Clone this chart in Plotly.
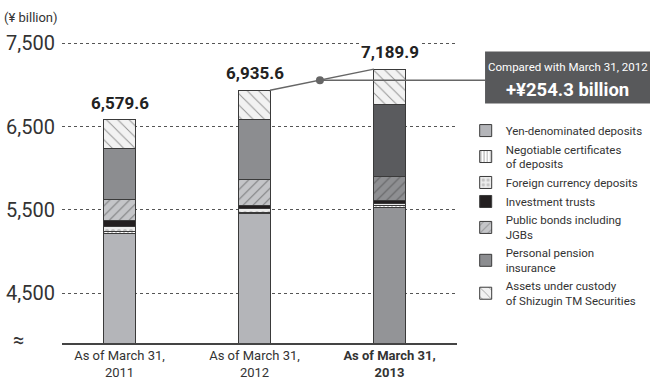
import plotly.graph_objects as go

categories = ["As of March 31,<br>2011", "As of March 31,<br>2012", "<b>As of March 31,<br>2013</b>"]
yen_deposits = [5215, 5450, 5530]
ncd = [25, 20, 18]
foreign_currency = [65, 40, 30]
investment_trusts = [70, 45, 32]
public_bonds = [245, 305, 288]
pension_insurance = [620, 729, 872]
custody_assets = [339.6, 346.6, 419.9]
y_ticks = [4500, 5500, 6500, 7500]
y_tick_text = ["4,500", "5,500", "6,500", "7,500"]

FONT = "Roboto, Liberation Sans, sans-serif"
X_RANGE = [-0.426, 2.5]
Y_RANGE = [3900, 7660]
BAR_W = 0.23
xs = [0, 1, 2]

def px(x):
    return (x - X_RANGE[0]) / (X_RANGE[1] - X_RANGE[0])

def py(y):
    return (y - Y_RANGE[0]) / (Y_RANGE[1] - Y_RANGE[0])

line = dict(color="#3a3a3a", width=1)
fig = go.Figure()
fig.add_bar(x=xs, y=yen_deposits, name="Yen-denominated deposits", width=BAR_W,
            marker=dict(color=["#b4b5b9", "#b4b5b9", "#939497"], line=line))
fig.add_bar(x=xs, y=ncd, name="Negotiable certificates<br>of deposits", width=BAR_W,
            marker=dict(color="white", line=line,
                        pattern=dict(shape="|", fgcolor="#333", bgcolor="white", size=4, solidity=0.25)))
fig.add_bar(x=xs, y=foreign_currency, name="Foreign currency deposits", width=BAR_W,
            marker=dict(color="#ececec", line=line,
                        pattern=dict(shape=".", fgcolor="#9a9a9a", bgcolor="#ececec", size=6, solidity=0.35)))
fig.add_bar(x=xs, y=investment_trusts, name="Investment trusts", width=BAR_W,
            marker=dict(color="#231f20", line=line))
fig.add_bar(x=xs, y=public_bonds, name="Public bonds including<br>JGBs", width=BAR_W,
            marker=dict(color="#c4c5c8", line=line,
                        pattern=dict(shape="/", fgcolor="#333", bgcolor=["#c4c5c8", "#c4c5c8", "#8e8f92"], size=7, solidity=0.15)))
fig.add_bar(x=xs, y=pension_insurance, name="Personal pension<br>insurance", width=BAR_W,
            marker=dict(color=["#8c8d90", "#8c8d90", "#5a5b5e"], line=line))
fig.add_bar(x=xs, y=custody_assets, name="Assets under custody<br>of Shizugin TM Securities", width=BAR_W,
            marker=dict(color="#f2f2f2", line=line,
                        pattern=dict(shape="\\", fgcolor="#333", bgcolor="#f2f2f2", size=8, solidity=0.12)))

series = [yen_deposits, ncd, foreign_currency, investment_trusts, public_bonds, pension_insurance, custody_assets]
totals = [sum(s[i] for s in series) for i in range(3)]

annotations = []
for i, t in enumerate(totals):
    annotations.append(dict(x=xs[i], y=t, xref="x", yref="y", text=f"<b>{t:,.1f}</b>",
                            showarrow=False, xanchor="center", yanchor="bottom", yshift=5, bgcolor="white",
                            font=dict(family=FONT, size=17, color="#222")))

annotations.append(dict(x=-0.152, y=1.04, xref="paper", yref="paper", text="(¥ billion)",
                        showarrow=False, xanchor="left", yanchor="middle",
                        font=dict(family=FONT, size=13, color="#333")))
annotations.append(dict(x=-0.111, y=0.01, xref="paper", yref="paper", text="≈",
                        showarrow=False, xanchor="center", yanchor="middle",
                        font=dict(family=FONT, size=20, color="#333")))

# comparison box
box_x0, box_x1 = 1.071, 1.49
box_y0, box_y1 = 0.765, 0.931
shapes = [dict(type="rect", xref="paper", yref="paper", x0=box_x0, x1=box_x1, y0=box_y0, y1=box_y1,
               fillcolor="#58595b", line=dict(width=0), layer="above")]
annotations.append(dict(x=(box_x0 + box_x1) / 2, y=box_y1 - 0.05, xref="paper", yref="paper",
                        text="Compared with March 31, 2012", showarrow=False,
                        xanchor="center", yanchor="middle",
                        font=dict(family=FONT, size=11.5, color="white")))
diff = totals[2] - totals[1]
annotations.append(dict(x=(box_x0 + box_x1) / 2, y=box_y0 + 0.042, xref="paper", yref="paper",
                        text=f"<b>+¥{diff:,.1f} billion</b>", showarrow=False,
                        xanchor="center", yanchor="middle",
                        font=dict(family=FONT, size=18.5, color="white")))

# connector
x_a, y_a = xs[1] + BAR_W / 2, totals[1]
x_b, y_b = xs[2] - BAR_W / 2, totals[2]
t = 0.48
x_d, y_d = x_a + (x_b - x_a) * t, y_a + (y_b - y_a) * t
shapes.append(dict(type="line", xref="paper", yref="paper", x0=px(x_a), y0=py(y_a), x1=px(x_b), y1=py(y_b),
                   line=dict(color="#666", width=1.5), layer="above"))
shapes.append(dict(type="line", xref="paper", yref="paper", x0=px(x_d), y0=py(y_d), x1=box_x0, y1=py(y_d),
                   line=dict(color="#666", width=1.5), layer="above"))
fig.add_trace(go.Scatter(x=[x_d], y=[y_d], mode="markers", showlegend=False, hoverinfo="skip",
                         marker=dict(color="#666", size=8)))

fig.update_layout(
    width=650, height=382,
    margin=dict(l=62, r=193, t=30, b=39, autoexpand=False),
    barmode="stack",
    plot_bgcolor="white", paper_bgcolor="white",
    font=dict(family=FONT, color="#333"),
    showlegend=True,
    legend=dict(x=1.022, y=0.725, xanchor="left", yanchor="top", traceorder="normal",
                font=dict(family=FONT, size=11.5, color="#333"), itemwidth=30,
                bgcolor="rgba(0,0,0,0)", tracegroupgap=0),
    annotations=annotations,
    shapes=shapes,
)
fig.update_xaxes(range=X_RANGE, tickvals=xs, ticktext=categories, showgrid=False,
                 showline=True, linecolor="#444", linewidth=1.5, ticks="", zeroline=False,
                 tickfont=dict(family=FONT, size=13, color="#333"))
fig.update_yaxes(range=Y_RANGE, tickvals=y_ticks, ticktext=y_tick_text, showgrid=True,
                 gridcolor="#555", gridwidth=1, griddash="dot", zeroline=False, showline=False,
                 ticks="", ticklabelstandoff=6,
                 tickfont=dict(family=FONT, size=20, color="#333"))

fig.write_html("out.html")
